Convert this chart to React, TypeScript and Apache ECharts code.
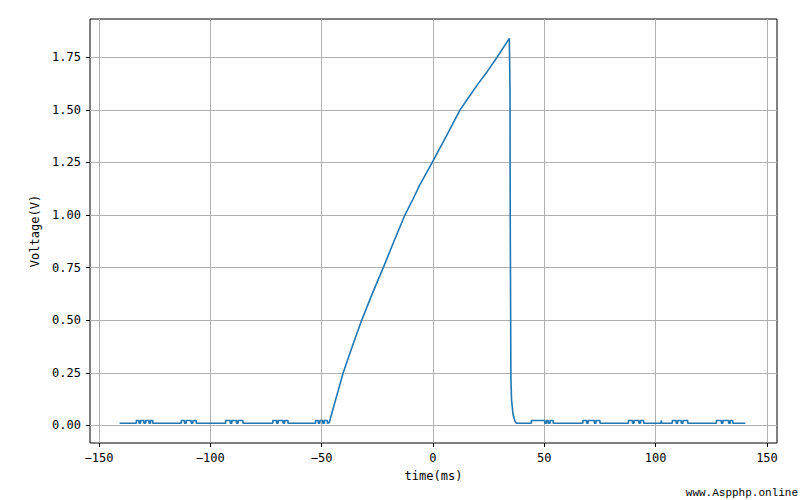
import React, { useEffect, useRef } from "react";
import * as echarts from "echarts";

// Baseline ADC levels (V)
const BASE_LOW = 0.01;
const BASE_HIGH = 0.023;
const T_START = -140.7;
const T_END = 140.3;

// Noise pulses (start, end in ms) where the baseline sits at the upper level
const LEFT_PULSES: number[][] = [
  [-133.2, -132.0], [-131.3, -129.8], [-129.0, -127.5], [-126.8, -125.8],
  [-113.0, -111.6], [-110.8, -108.6], [-107.8, -106.3],
  [-93.1, -91.0], [-90.3, -88.2], [-87.5, -85.3],
  [-71.9, -70.2], [-69.5, -67.3], [-66.6, -65.1],
  [-52.7, -51.5], [-50.8, -49.5], [-48.8, -47.4],
];
const RIGHT_PULSES: number[][] = [
  [44.2, 50.2], [51.0, 51.8], [52.6, 54.0],
  [67.3, 69.0], [69.7, 72.5], [73.2, 75.0],
  [87.8, 89.6], [90.3, 92.5], [93.2, 94.6],
  [102.5, 102.8],
  [107.5, 109.2], [109.9, 111.5], [112.3, 114.4],
  [127.3, 129.5], [130.2, 132.8], [133.5, 134.6],
];

// Ramp (ms, V)
const RISE_T = [-46.6, -44.5, -42.4, -40.3, -38.0, -35.0, -32.0, -27.0, -22.3, -17.5, -12.6, -9.0, -5.9, -0.3, 6.0, 12.2, 16.0, 20.0, 24.5, 28.8, 34.3];
const RISE_V = [0.012, 0.092, 0.171, 0.25, 0.321, 0.412, 0.5, 0.632, 0.75, 0.875, 1.0, 1.075, 1.143, 1.25, 1.375, 1.5, 1.559, 1.62, 1.684, 1.75, 1.84];

// Fall (ms, V)
const DROP_T = [34.6, 34.7, 34.9, 35.0, 35.3, 36.0, 36.8, 37.5];
const DROP_V = [1.6, 1.0, 0.5, 0.23, 0.12, 0.05, 0.02, 0.01];

const X_TICKS = [-150, -100, -50, 0, 50, 100, 150];
const Y_TICKS = [0, 0.25, 0.5, 0.75, 1.0, 1.25, 1.5, 1.75];

function buildData(): number[][] {
  const pts: number[][] = [[T_START, BASE_LOW]];
  const addPulses = (pulses: number[][]) => {
    pulses.forEach(([a, b]) => {
      pts.push([a, BASE_LOW], [a, BASE_HIGH], [b, BASE_HIGH], [b, BASE_LOW]);
    });
  };
  addPulses(LEFT_PULSES);
  RISE_T.forEach((t, i) => pts.push([t, RISE_V[i]]));
  DROP_T.forEach((t, i) => pts.push([t, DROP_V[i]]));
  addPulses(RIGHT_PULSES);
  pts.push([T_END, BASE_LOW]);
  return pts;
}

const FONT = "DejaVu Sans Mono";

export default function App() {
  const ref = useRef<HTMLDivElement>(null);
  useEffect(() => {
    if (!ref.current) return;
    const chart = echarts.init(ref.current, null, { renderer: "svg" });
    chart.setOption({
      animation: false,
      backgroundColor: "#ffffff",
      grid: {
        left: 90,
        right: 23,
        top: 19,
        bottom: 57,
        show: true,
        borderColor: "#000000",
        borderWidth: 1,
        backgroundColor: "transparent",
      },
      xAxis: {
        type: "value",
        min: -154,
        max: 154.5,
        name: "time(ms)",
        nameLocation: "middle",
        nameGap: 27,
        nameTextStyle: { fontFamily: FONT, fontSize: 12, color: "#000" },
        axisLine: { show: false, onZero: false },
        axisTick: {
          show: true,
          customValues: X_TICKS,
          length: 4,
          lineStyle: { color: "#000" },
        },
        axisLabel: {
          customValues: X_TICKS,
          margin: 9,
          fontFamily: FONT,
          fontSize: 12,
          color: "#000",
          formatter: (v: number) => (v < 0 ? "\u2212" + Math.abs(v) : String(v)),
        },
        splitLine: { show: true, lineStyle: { color: "#b0b0b0", width: 1 } },
      },
      yAxis: {
        type: "value",
        min: -0.084,
        max: 1.932,
        name: "Voltage(V)",
        nameLocation: "middle",
        nameGap: 46,
        nameTextStyle: { fontFamily: FONT, fontSize: 12, color: "#000" },
        axisLine: { show: false, onZero: false },
        axisTick: {
          show: true,
          customValues: Y_TICKS,
          length: 4,
          lineStyle: { color: "#000" },
        },
        axisLabel: {
          customValues: Y_TICKS,
          margin: 9,
          fontFamily: FONT,
          fontSize: 12,
          color: "#000",
          formatter: (v: number) => v.toFixed(2),
        },
        splitLine: { show: true, lineStyle: { color: "#b0b0b0", width: 1 } },
      },
      graphic: [
        {
          type: "text",
          right: 2,
          top: 487,
          style: {
            text: "www.Aspphp.online",
            fontFamily: "Liberation Mono",
            fontSize: 11,
            fill: "#000",
          },
        },
      ],
      series: [
        {
          type: "line",
          data: buildData(),
          showSymbol: false,
          symbol: "none",
          lineStyle: { color: "#1f77b4", width: 1.6 },
        },
      ],
    });
    return () => chart.dispose();
  }, []);
  return (
    <div
      ref={ref}
      style={{ position: "absolute", left: 0, top: 0, width: 800, height: 500 }}
    />
  );
}
